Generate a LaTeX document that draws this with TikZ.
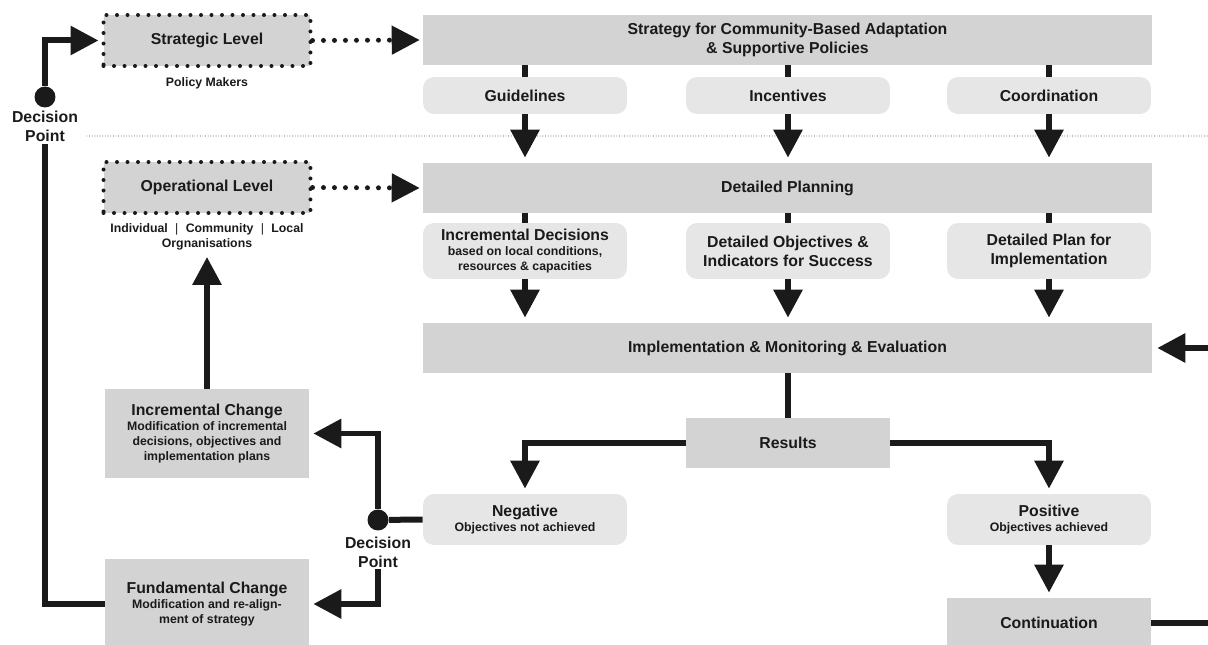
\documentclass[tikz,border=0pt]{standalone}
\usepackage{fontspec}
\setmainfont{Liberation Sans}
\usetikzlibrary{arrows.meta}

\definecolor{ink}{HTML}{1A1A1A}
\definecolor{boxgray}{HTML}{D3D3D3}
\definecolor{tilegray}{HTML}{E6E6E6}
\newcommand{\mainsize}{\fontsize{9}{10.8}\selectfont}
\newcommand{\subsize}{\fontsize{7}{8.6}\selectfont}

\tikzset{
	bar/.style={fill=boxgray,text=ink,minimum width=14.58cm,minimum height=1cm,inner sep=0pt,align=center,font=\bfseries\mainsize},
	tile/.style={fill=tilegray,text=ink,rounded corners=0.22cm,minimum width=4.08cm,inner sep=0pt,align=center,font=\bfseries\mainsize},
	panel/.style={fill=boxgray,text=ink,minimum width=4.08cm,inner sep=0pt,align=center,font=\bfseries\mainsize},
	levelbox/.style={panel,draw=ink,line width=0.08cm,dash pattern=on 0pt off 0.21cm,line cap=round,minimum width=4.14cm,minimum height=1.02cm},
	note/.style={text=ink,inner sep=1pt,align=center,font=\bfseries\subsize},
	dpoint/.style={circle,fill=ink,minimum size=0.42cm,inner sep=0pt},
	flow/.style={draw=ink,line width=0.12cm},
	arr/.style={flow,-{Triangle[length=0.56cm,width=0.56cm]},shorten >=0.1cm},
	dots/.style={draw=ink,line width=0.1cm,dash pattern=on 0pt off 0.22cm,line cap=round,-{Triangle[length=0.56cm,width=0.56cm]},shorten >=0.06cm},
	sep/.style={draw=ink,line width=0.5pt,dash pattern=on 0pt off 1.5pt,line cap=round}
}

\begin{document}
\begin{tikzpicture}[x=0.02cm,y=-0.02cm]
\useasboundingbox (0,0) rectangle (1208,645);

% levels
\node (strat) at (207,40.5) [levelbox] {Strategic Level};
\node (policy) at (207,83) [note] {Policy Makers};
\node (oper) at (207,187.5) [levelbox] {Operational Level};
\node (actors) at (207,236.5) [note] {Individual\hspace{0.6em}{\mdseries|}\hspace{0.6em}Community\hspace{0.6em}{\mdseries|}\hspace{0.6em}Local\\Orgnanisations};

\coordinate (sepa) at (87,136);
\coordinate (sepb) at (1208,136);
\draw[sep] (sepa) -- (sepb);

% strategy
\node (strategy) at (787.5,40) [bar] {Strategy for Community-Based Adaptation\\\& Supportive Policies};
\node (guide) at (525,95.5) [tile,minimum height=0.74cm] {Guidelines};
\node (incent) at (788,95.5) [tile,minimum height=0.74cm] {Incentives};
\node (coord) at (1049,95.5) [tile,minimum height=0.74cm] {Coordination};

% planning
\node (plan) at (787.5,188) [bar] {Detailed Planning};
\node (incdec) at (525,251) [tile,minimum height=1.12cm,font=\bfseries\subsize] {{\mainsize Incremental Decisions}\\based on local conditions,\\resources \& capacities};
\node (obj) at (788,251) [tile,minimum height=1.12cm] {Detailed Objectives \&\\Indicators for Success};
\node (implplan) at (1049,251) [tile,minimum height=1.12cm] {Detailed Plan for\\Implementation};

\node (impl) at (787.5,348) [bar] {Implementation \& Monitoring \& Evaluation};
\node (results) at (788,443) [panel,minimum height=1cm] {Results};
\node (neg) at (525,519.5) [tile,minimum height=1.02cm,font=\bfseries\subsize] {{\mainsize Negative}\\Objectives not achieved};
\node (pos) at (1049,519.5) [tile,minimum height=1.02cm,font=\bfseries\subsize] {{\mainsize Positive}\\Objectives achieved};
\node (cont) at (1049,623) [panel,minimum height=1cm] {Continuation};

% changes
\node (incchg) at (207,433.5) [panel,minimum height=1.78cm,font=\bfseries\subsize] {{\mainsize Incremental Change}\\Modification of incremental\\decisions, objectives and\\implementation plans};
\node (fundchg) at (207,604) [panel,minimum height=1.8cm,font=\bfseries\subsize] {{\mainsize Fundamental Change}\\Modification and re-align-\\ment of strategy};

\node (dpa) at (45,97) [dpoint] {};
\node (dpalbl) at (45,126.5) [note,font=\bfseries\mainsize] {Decision\\Point};
\node (dpb) at (378,520) [dpoint] {};
\node (dpblbl) at (378,552) [note,font=\bfseries\mainsize] {Decision\\Point};

\coordinate (loopa) at (1208,623);
\coordinate (loopb) at (1208,348);

% connectors
\draw[arr,shorten >=0.06cm] (dpa) |- (strat.west);
\draw[flow] (dpalbl.south) |- (fundchg.west);
\draw[dots] (strat.east) -- (strategy.west);
\draw[dots] (oper.east) -- (plan.west);

\foreach \n in {guide,incent,coord}{
	\draw[flow] (\n.north) -- (\n.north |- strategy.south);
	\draw[arr] (\n.south) -- (\n.south |- plan.north);
}
\foreach \n in {incdec,obj,implplan}{
	\draw[flow] (\n.north) -- (\n.north |- plan.south);
	\draw[arr] (\n.south) -- (\n.south |- impl.north);
}

\draw[flow] (results.north |- impl.south) -- (results.north);
\draw[arr] (results.west) -| (neg.north);
\draw[arr] (results.east) -| (pos.north);
\draw[arr] (pos) -- (cont);
\draw[flow] (cont.east) -- (loopa);
\draw[arr] (loopb) -- (impl.east);

\draw[flow] (neg.west) -- (dpb);
\draw[arr,shorten >=0.08cm] (dpb) |- (incchg.east);
\draw[arr,shorten >=0.08cm] (dpblbl.south) |- (fundchg.east);
\draw[arr] (incchg.north) -- (actors.south);

\end{tikzpicture}
\end{document}
